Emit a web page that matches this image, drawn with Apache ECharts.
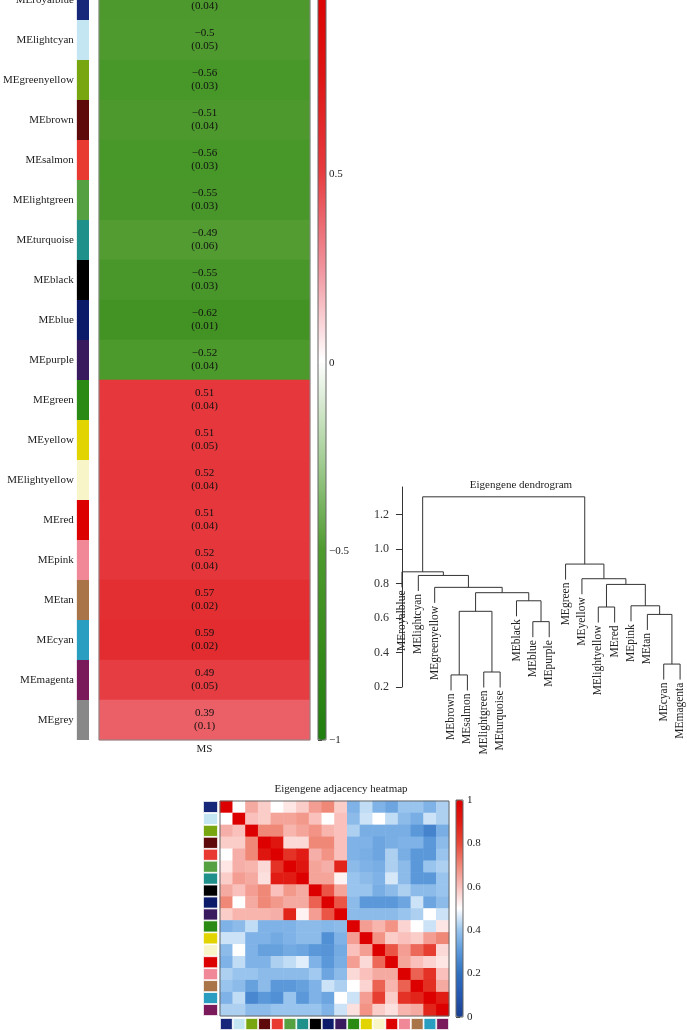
<!DOCTYPE html>
<html>
<head>
<meta charset="utf-8">
<script src="https://cdn.jsdelivr.net/npm/echarts@6/dist/echarts.min.js"></script>
<style>html,body{margin:0;padding:0;background:#fff;overflow:hidden}#c{width:687px;height:1050px;margin-top:-20px}</style>
</head>
<body>
<div id="c"></div>
<script>
// ---------- data ----------
const moduleNames = ['MEroyalblue','MElightcyan','MEgreenyellow','MEbrown','MEsalmon','MElightgreen','MEturquoise','MEblack','MEblue','MEpurple','MEgreen','MEyellow','MElightyellow','MEred','MEpink','MEtan','MEcyan','MEmagenta','MEgrey'];
const moduleColors = ['#17287a','#c4e6f2','#78a610','#5e0a0a','#e83a30','#55a040','#20908a','#000000','#0c1a6a','#3a1a5e','#2a8a14','#e2d400','#f8f5c8','#dd0000','#f08898','#a87448','#2a9ec0','#7a1a5a','#888888'];
const traitNames = ['MS'];
const msCor = [-0.51,-0.5,-0.56,-0.51,-0.56,-0.55,-0.49,-0.55,-0.62,-0.52,0.51,0.51,0.52,0.51,0.52,0.57,0.59,0.49,0.39];
const msP = ['0.04','0.05','0.03','0.04','0.03','0.03','0.06','0.03','0.01','0.04','0.04','0.05','0.04','0.04','0.04','0.02','0.02','0.05','0.1'];
const msScaleColors = ['#1f7f0f','#378c1a','#4e9a2e','#a8d09a','#ffffff','#f0909a','#e63a3e','#de1414','#dd0000'];

// dendrogram
const dendroLeaves = ['MEroyalblue','MElightcyan','MEgreenyellow','MEbrown','MEsalmon','MElightgreen','MEturquoise','MEblack','MEblue','MEpurple','MEgreen','MEyellow','MElightyellow','MEred','MEpink','MEtan','MEcyan','MEmagenta'];
// [left, right, height]; strings = leaves, numbers = earlier merge index
const dendroMerges = [
  ['MEbrown','MEsalmon',0.27],
  ['MElightgreen','MEturquoise',0.287],
  [0,1,0.639],
  ['MEblue','MEpurple',0.579],
  ['MEblack',3,0.70],
  [2,4,0.747],
  ['MEgreenyellow',5,0.778],
  ['MElightcyan',6,0.847],
  ['MEroyalblue',7,0.868],
  ['MEcyan','MEmagenta',0.333],
  ['MEtan',9,0.621],
  ['MEpink',10,0.671],
  ['MElightyellow','MEred',0.664],
  [12,11,0.795],
  ['MEyellow',13,0.828],
  ['MEgreen',14,0.913],
  [8,15,1.303]
];
const dendroHang = 0.09;
const dendroTicks = [0.2,0.4,0.6,0.8,1.0,1.2];

// adjacency (rows/cols in dendroLeaves order)
const adjacency = [
 [1,0.5,0.64,0.58,0.5,0.54,0.58,0.66,0.7,0.58, 0.36,0.44,0.36,0.33,0.4,0.4,0.36,0.42],
 [0.5,1,0.6,0.58,0.65,0.65,0.67,0.6,0.5,0.6, 0.38,0.45,0.5,0.44,0.38,0.35,0.45,0.42],
 [0.63,0.6,1,0.7,0.7,0.62,0.65,0.68,0.62,0.6, 0.42,0.35,0.35,0.35,0.35,0.3,0.25,0.35],
 [0.58,0.58,0.7,1,0.92,0.56,0.56,0.7,0.7,0.6, 0.36,0.36,0.33,0.35,0.36,0.36,0.3,0.38],
 [0.5,0.63,0.7,0.92,1,0.85,0.9,0.63,0.68,0.6, 0.36,0.35,0.33,0.42,0.35,0.3,0.3,0.4],
 [0.54,0.63,0.62,0.56,0.85,1,0.92,0.65,0.63,0.88, 0.38,0.36,0.35,0.42,0.38,0.3,0.4,0.42],
 [0.58,0.66,0.64,0.55,0.9,0.9,1,0.65,0.65,0.52, 0.4,0.38,0.36,0.46,0.38,0.3,0.3,0.4],
 [0.64,0.6,0.66,0.7,0.6,0.67,0.64,1,0.78,0.65, 0.4,0.4,0.35,0.38,0.42,0.38,0.38,0.4],
 [0.7,0.5,0.64,0.7,0.67,0.64,0.64,0.76,1,0.78, 0.38,0.3,0.3,0.3,0.33,0.45,0.33,0.38],
 [0.58,0.62,0.62,0.62,0.63,0.88,0.52,0.66,0.78,1, 0.38,0.38,0.38,0.38,0.4,0.42,0.5,0.45],
 [0.36,0.38,0.44,0.36,0.36,0.36,0.38,0.38,0.37,0.38, 1,0.66,0.62,0.68,0.57,0.5,0.45,0.54],
 [0.45,0.45,0.36,0.36,0.34,0.36,0.38,0.38,0.28,0.36, 0.66,1,0.68,0.58,0.6,0.58,0.66,0.7],
 [0.38,0.5,0.36,0.32,0.32,0.34,0.33,0.3,0.29,0.34, 0.6,0.66,1,0.78,0.66,0.75,0.82,0.56],
 [0.36,0.44,0.36,0.36,0.42,0.44,0.47,0.36,0.3,0.35, 0.66,0.56,0.75,1,0.65,0.6,0.57,0.54],
 [0.42,0.4,0.4,0.38,0.38,0.38,0.38,0.41,0.33,0.38, 0.56,0.6,0.64,0.64,1,0.76,0.85,0.6],
 [0.4,0.38,0.32,0.38,0.3,0.3,0.32,0.36,0.45,0.42, 0.5,0.57,0.76,0.62,0.76,1,0.86,0.64],
 [0.36,0.44,0.26,0.3,0.28,0.4,0.3,0.36,0.33,0.5, 0.45,0.66,0.82,0.58,0.85,0.88,1,0.9],
 [0.42,0.42,0.38,0.38,0.4,0.4,0.4,0.4,0.36,0.45, 0.55,0.68,0.58,0.55,0.62,0.64,0.88,1]
];
const adjScaleColors = ['#1a3f90','#2558b0','#3070c0','#5a98da','#98c4ee','#ffffff','#f9c0bc','#f08878','#e84838','#e01c14','#dd0000'];

// ---------- build ----------
// the chart canvas starts 20px above the page top (the reference figure is cropped there)
const FONT = '"Liberation Serif", "DejaVu Serif", serif';
const minus = s => String(s).replace('-', '\u2212');
const adjNames = dendroLeaves;
const adjColors = dendroLeaves.map(n => moduleColors[moduleNames.indexOf(n)]);

const leafIdx = {}; dendroLeaves.forEach((n,i)=>leafIdx[n]=i);
const mergeX = [];
const links = [];
const leafBottom = {};
dendroMerges.forEach((m, k) => {
  const h = m[2];
  const side = ref => {
    if (typeof ref === 'string') { leafBottom[ref] = h - dendroHang; return [leafIdx[ref], h - dendroHang]; }
    return [mergeX[ref], dendroMerges[ref][2]];
  };
  const L = side(m[0]), R = side(m[1]);
  mergeX[k] = (L[0] + R[0]) / 2;
  links.push([L[0], L[1], L[0], h, R[0], h, R[0], R[1]]);
});
const leafData = dendroLeaves.map((n,i)=>[i, leafBottom[n], n]);

const adjData = [];
adjacency.forEach((row,i)=>row.forEach((v,j)=>adjData.push([j,i,v])));

const hidden = {show:false};
const chart = echarts.init(document.getElementById('c'), null, {renderer:'canvas'});
chart.setOption({
  backgroundColor:'#fff',
  animation:false,
  textStyle:{fontFamily:FONT},
  title:[
    {text:'Eigengene dendrogram', left:521, top:500, textAlign:'center', padding:0,
     textStyle:{fontSize:11, fontWeight:'normal', fontFamily:FONT, color:'#222'}},
    {text:'Eigengene adjacency heatmap', left:341, top:804, textAlign:'center', padding:0,
     textStyle:{fontSize:11, fontWeight:'normal', fontFamily:FONT, color:'#222'}}
  ],
  grid:[
    {left:99, top:0, width:211, height:760, show:true, borderColor:'#888', borderWidth:1, z:10},
    {left:72, top:0, width:17, height:760},
    {left:318, top:0, width:8, height:760, show:true, borderColor:'#666', borderWidth:1, z:10},
    {left:391, top:507, width:294, height:200},
    {left:220, top:821, width:229, height:215, show:true, borderColor:'#666', borderWidth:1, z:10},
    {left:203, top:821, width:15, height:215},
    {left:220, top:1038, width:229, height:16},
    {left:456, top:820, width:7, height:217, show:true, borderColor:'#666', borderWidth:1, z:10}
  ],
  xAxis:[
    {gridIndex:0, type:'category', data:traitNames, axisLine:hidden, axisTick:hidden,
     axisLabel:{margin:4, fontSize:11, color:'#222', fontFamily:FONT}},
    {gridIndex:1, type:'value', min:0, max:1, show:false},
    {gridIndex:2, type:'value', min:0, max:1, show:false},
    {gridIndex:3, type:'value', min:-0.67, max:17.3, show:false},
    {gridIndex:4, type:'category', data:adjNames, show:false},
    {gridIndex:5, type:'value', min:0, max:1, show:false},
    {gridIndex:6, type:'category', data:adjNames, show:false},
    {gridIndex:7, type:'value', min:0, max:1, show:false}
  ],
  yAxis:[
    {gridIndex:0, type:'category', data:moduleNames, inverse:true, show:false},
    {gridIndex:1, type:'category', data:moduleNames, inverse:true, axisLine:hidden, axisTick:hidden,
     axisLabel:{margin:3, fontSize:11, color:'#222', fontFamily:FONT}},
    {gridIndex:2, type:'value', position:'right', min:-1, max:1, interval:0.5, splitLine:hidden,
     axisLine:hidden, axisTick:{show:true, length:4, lineStyle:{color:'#333'}},
     axisLabel:{margin:3, fontSize:11, color:'#222', fontFamily:FONT, formatter:v=>minus(v)}},
    {gridIndex:3, type:'value', min:0.2, max:1.36, splitLine:hidden,
     axisLine:{show:true, lineStyle:{color:'#333', width:1}},
     axisTick:{show:true, length:6, lineStyle:{color:'#333'}, customValues:dendroTicks},
     axisLabel:{margin:2, fontSize:12, color:'#333', fontFamily:FONT, customValues:dendroTicks, formatter:v=>v.toFixed(1)}},
    {gridIndex:4, type:'category', data:adjNames, inverse:true, show:false},
    {gridIndex:5, type:'category', data:adjNames, inverse:true, show:false},
    {gridIndex:6, type:'value', min:0, max:1, show:false},
    {gridIndex:7, type:'value', position:'right', min:0, max:1, interval:0.2, splitLine:hidden,
     axisLine:hidden, axisTick:{show:true, length:4, lineStyle:{color:'#333'}},
     axisLabel:{margin:4, fontSize:11, color:'#222', fontFamily:FONT}}
  ],
  visualMap:[
    {type:'continuous', seriesIndex:0, min:-1, max:1, left:318, top:0, itemWidth:8, itemHeight:760,
     padding:0, calculable:false, text:null, showLabel:false, inRange:{color:msScaleColors}, hoverLink:false},
    {type:'continuous', seriesIndex:4, min:0, max:1, left:456, top:820, itemWidth:7, itemHeight:217,
     padding:0, calculable:false, text:null, showLabel:false, inRange:{color:adjScaleColors}, hoverLink:false}
  ],
  series:[
    {type:'heatmap', xAxisIndex:0, yAxisIndex:0, data:msCor.map((v,i)=>[0,i,v]),
     label:{show:true, fontSize:11, lineHeight:13, color:'#111', fontFamily:FONT,
       formatter:p=>minus(p.value[2])+'\n('+msP[p.dataIndex]+')'},
     emphasis:{disabled:true}},
    {type:'bar', xAxisIndex:1, yAxisIndex:1, barCategoryGap:'0%',
     data:moduleColors.map(c=>({value:1, itemStyle:{color:c}})), emphasis:{disabled:true}},
    {type:'custom', xAxisIndex:3, yAxisIndex:3, clip:false, data:links,
     encode:{x:[0,2,4,6], y:[1,3,5,7]},
     renderItem:(params, api)=>{
       const pts=[]; for(let k=0;k<4;k++) pts.push(api.coord([api.value(2*k), api.value(2*k+1)]));
       return {type:'polyline', shape:{points:pts}, style:{stroke:'#333', lineWidth:1, fill:null}};
     }},
    {type:'custom', xAxisIndex:3, yAxisIndex:3, clip:false, data:leafData,
     encode:{x:0, y:1},
     renderItem:(params, api)=>{
       const p = api.coord([api.value(0), api.value(1)]);
       return {type:'text', x:p[0], y:p[1]+3, rotation:Math.PI/2,
         style:{text:leafData[params.dataIndex][2], align:'right', verticalAlign:'middle',
           font:'11.5px '+FONT, fill:'#222'}};
     }},
    {type:'heatmap', xAxisIndex:4, yAxisIndex:4, data:adjData, emphasis:{disabled:true}},
    {type:'bar', xAxisIndex:5, yAxisIndex:5, barCategoryGap:'0%',
     data:adjColors.map(c=>({value:1, itemStyle:{color:c, borderColor:'#fff', borderWidth:0.8}})), emphasis:{disabled:true}},
    {type:'bar', xAxisIndex:6, yAxisIndex:6, barCategoryGap:'0%',
     data:adjColors.map(c=>({value:1, itemStyle:{color:c, borderColor:'#fff', borderWidth:0.8}})), emphasis:{disabled:true}}
  ]
});
</script>
</body>
</html>
